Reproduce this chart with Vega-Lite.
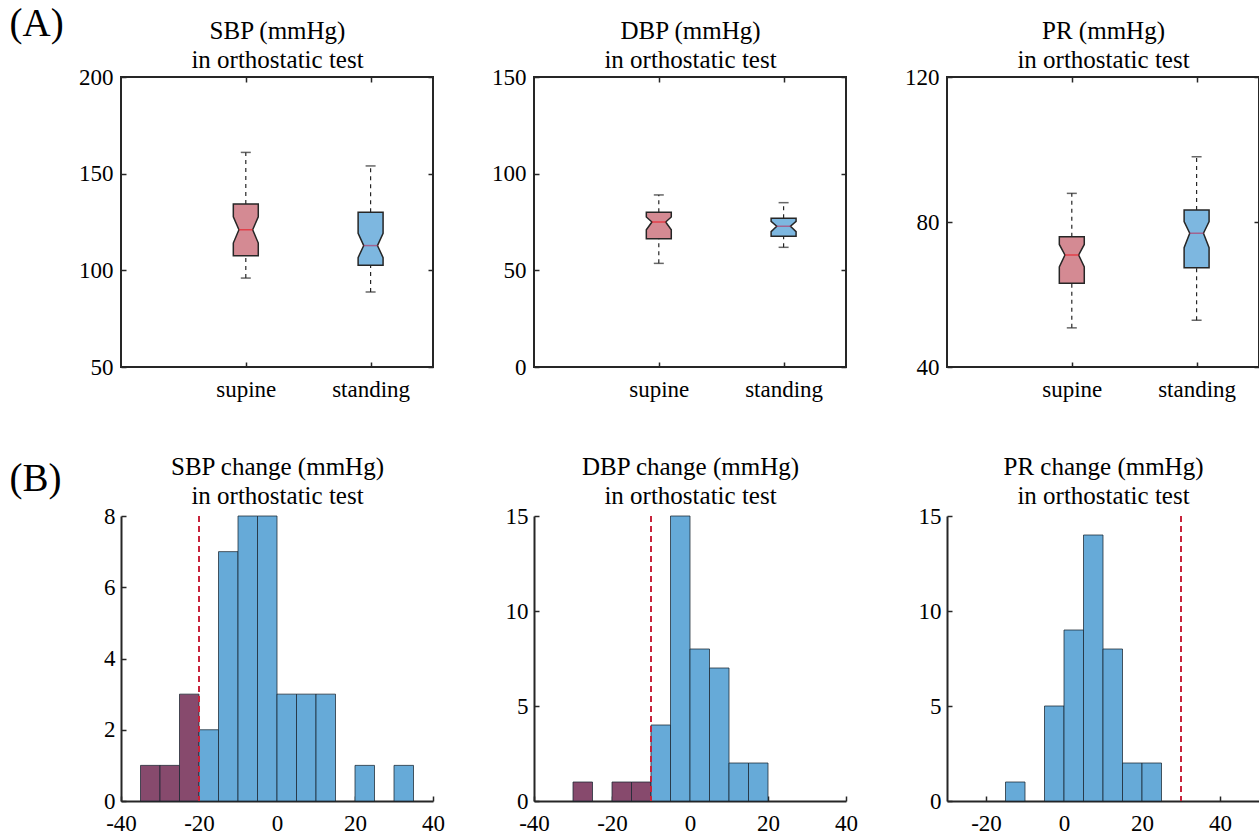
{
  "$schema": "https://vega.github.io/schema/vega-lite/v6.json",
  "padding": {"left": 8, "top": 3, "right": 0, "bottom": 0},
  "datasets": {
    "boxes": [
      {"panel": "SBP", "grp": "supine", "pos": 1, "lo": 96, "q1": 107.6, "nlo": 114.1, "med": 121, "nhi": 127.7, "q3": 134.3, "hi": 161},
      {"panel": "SBP", "grp": "standing", "pos": 2, "lo": 88.8, "q1": 102.6, "nlo": 106.6, "med": 112.8, "nhi": 119.1, "q3": 130, "hi": 154},
      {"panel": "DBP", "grp": "supine", "pos": 1, "lo": 53.6, "q1": 66.4, "nlo": 71, "med": 75, "nhi": 77.6, "q3": 80, "hi": 89},
      {"panel": "DBP", "grp": "standing", "pos": 2, "lo": 61.9, "q1": 67.6, "nlo": 70, "med": 72.8, "nhi": 75.3, "q3": 76.9, "hi": 85},
      {"panel": "PR", "grp": "supine", "pos": 1, "lo": 50.8, "q1": 63.1, "nlo": 67.6, "med": 70.9, "nhi": 73.8, "q3": 75.9, "hi": 87.9},
      {"panel": "PR", "grp": "standing", "pos": 2, "lo": 52.9, "q1": 67.4, "nlo": 72.9, "med": 76.9, "nhi": 80.1, "q3": 83.3, "hi": 98}
    ],
    "hist": [
      {"panel": "SBP", "b0": -35, "b1": -30, "n": 1, "side": "low"},
      {"panel": "SBP", "b0": -30, "b1": -25, "n": 1, "side": "low"},
      {"panel": "SBP", "b0": -25, "b1": -20, "n": 3, "side": "low"},
      {"panel": "SBP", "b0": -20, "b1": -15, "n": 2, "side": "high"},
      {"panel": "SBP", "b0": -15, "b1": -10, "n": 7, "side": "high"},
      {"panel": "SBP", "b0": -10, "b1": -5, "n": 8, "side": "high"},
      {"panel": "SBP", "b0": -5, "b1": 0, "n": 8, "side": "high"},
      {"panel": "SBP", "b0": 0, "b1": 5, "n": 3, "side": "high"},
      {"panel": "SBP", "b0": 5, "b1": 10, "n": 3, "side": "high"},
      {"panel": "SBP", "b0": 10, "b1": 15, "n": 3, "side": "high"},
      {"panel": "SBP", "b0": 20, "b1": 25, "n": 1, "side": "high"},
      {"panel": "SBP", "b0": 30, "b1": 35, "n": 1, "side": "high"},
      {"panel": "DBP", "b0": -30, "b1": -25, "n": 1, "side": "low"},
      {"panel": "DBP", "b0": -20, "b1": -15, "n": 1, "side": "low"},
      {"panel": "DBP", "b0": -15, "b1": -10, "n": 1, "side": "low"},
      {"panel": "DBP", "b0": -10, "b1": -5, "n": 4, "side": "high"},
      {"panel": "DBP", "b0": -5, "b1": 0, "n": 15, "side": "high"},
      {"panel": "DBP", "b0": 0, "b1": 5, "n": 8, "side": "high"},
      {"panel": "DBP", "b0": 5, "b1": 10, "n": 7, "side": "high"},
      {"panel": "DBP", "b0": 10, "b1": 15, "n": 2, "side": "high"},
      {"panel": "DBP", "b0": 15, "b1": 20, "n": 2, "side": "high"},
      {"panel": "PR", "b0": -15, "b1": -10, "n": 1, "side": "high"},
      {"panel": "PR", "b0": -5, "b1": 0, "n": 5, "side": "high"},
      {"panel": "PR", "b0": 0, "b1": 5, "n": 9, "side": "high"},
      {"panel": "PR", "b0": 5, "b1": 10, "n": 14, "side": "high"},
      {"panel": "PR", "b0": 10, "b1": 15, "n": 8, "side": "high"},
      {"panel": "PR", "b0": 15, "b1": 20, "n": 2, "side": "high"},
      {"panel": "PR", "b0": 20, "b1": 25, "n": 2, "side": "high"}
    ],
    "thr": [
      {"panel": "SBP", "thr": -20},
      {"panel": "DBP", "thr": -10},
      {"panel": "PR", "thr": 30}
    ]
  },
  "columns": 3,
  "spacing": {"row": 149, "column": 101},
  "bounds": "flush",
  "concat": [
    {
      "width": 312, "height": 290,
      "view": {"stroke": "#262626", "strokeWidth": 2},
      "data": {"name": "boxes"},
      "transform": [{"filter": "datum.panel == 'SBP'"}],
      "resolve": {"axis": {"x": "independent", "y": "independent"}},
      "layer": [
        {
          "transform": [
            {"fold": ["q1", "nlo", "med", "nhi", "q3"], "as": ["stat", "val"]},
            {"calculate": "datum.stat == 'med' ? 0.055 : 0.1", "as": "hw"},
            {"calculate": "datum.pos - datum.hw", "as": "xl"},
            {"calculate": "datum.pos + datum.hw", "as": "xr"}
          ],
          "mark": {"type": "area", "orient": "horizontal", "stroke": "#262626", "strokeWidth": 1.5},
          "encoding": {
            "y": {"field": "val", "type": "quantitative", "scale": {"domain": [50, 200], "nice": false, "zero": false},
              "axis": {"orient": "left", "values": [50, 100, 150, 200], "domain": false, "title": "(A)", "titleAngle": 0, "titleAlign": "left", "titleBaseline": "alphabetic", "titleX": -112, "titleY": -42, "titleFontSize": 39, "titleLineHeight": 39}},
            "x": {"field": "xl", "type": "quantitative", "scale": {"domain": [0, 2.5], "nice": false},
              "axis": {"orient": "bottom", "values": [1, 2], "labelExpr": "datum.value == 1 ? 'supine' : 'standing'", "domain": false, "title": null}},
            "x2": {"field": "xr"},
            "detail": {"field": "grp", "type": "nominal"},
            "fill": {"condition": {"test": "datum.grp == 'supine'", "value": "#D48A93"}, "value": "#7DB7E0"}
          }
        },
        {
          "mark": {"type": "rule", "color": "#262626", "strokeWidth": 1.2, "strokeDash": [4, 4]},
          "encoding": {
            "x": {"field": "pos", "type": "quantitative", "axis": null},
            "y": {"field": "lo", "type": "quantitative", "axis": null},
            "y2": {"field": "q1"}
          }
        },
        {
          "mark": {"type": "rule", "color": "#262626", "strokeWidth": 1.2, "strokeDash": [4, 4]},
          "encoding": {
            "x": {"field": "pos", "type": "quantitative", "axis": null},
            "y": {"field": "q3", "type": "quantitative", "axis": null},
            "y2": {"field": "hi"}
          }
        },
        {
          "transform": [{"fold": ["lo", "hi"], "as": ["stat", "val"]}],
          "mark": {"type": "tick", "orient": "horizontal", "size": 10, "thickness": 1.5, "color": "#262626"},
          "encoding": {
            "x": {"field": "pos", "type": "quantitative", "axis": {"orient": "top", "values": [1, 2], "labels": false, "domain": false, "title": ["SBP (mmHg)", "in orthostatic test"], "titleX": 156, "titleY": -59}},
            "y": {"field": "val", "type": "quantitative", "axis": {"orient": "right", "values": [50, 100, 150, 200], "labels": false, "domain": false, "title": null}}
          }
        },
        {
          "mark": {"type": "tick", "orient": "horizontal", "size": 14, "thickness": 1.5},
          "encoding": {
            "x": {"field": "pos", "type": "quantitative", "axis": null},
            "y": {"field": "med", "type": "quantitative", "axis": null},
            "color": {"condition": {"test": "datum.grp == 'supine'", "value": "#E8202A"}, "value": "#B0406F"}
          }
        }
      ]
    },
    {
      "width": 312, "height": 290,
      "view": {"stroke": "#262626", "strokeWidth": 2},
      "data": {"name": "boxes"},
      "transform": [{"filter": "datum.panel == 'DBP'"}],
      "resolve": {"axis": {"x": "independent", "y": "independent"}},
      "layer": [
        {
          "transform": [
            {"fold": ["q1", "nlo", "med", "nhi", "q3"], "as": ["stat", "val"]},
            {"calculate": "datum.stat == 'med' ? 0.055 : 0.1", "as": "hw"},
            {"calculate": "datum.pos - datum.hw", "as": "xl"},
            {"calculate": "datum.pos + datum.hw", "as": "xr"}
          ],
          "mark": {"type": "area", "orient": "horizontal", "stroke": "#262626", "strokeWidth": 1.5},
          "encoding": {
            "y": {"field": "val", "type": "quantitative", "scale": {"domain": [0, 150], "nice": false},
              "axis": {"orient": "left", "values": [0, 50, 100, 150], "domain": false, "title": null}},
            "x": {"field": "xl", "type": "quantitative", "scale": {"domain": [0, 2.5], "nice": false},
              "axis": {"orient": "bottom", "values": [1, 2], "labelExpr": "datum.value == 1 ? 'supine' : 'standing'", "domain": false, "title": null}},
            "x2": {"field": "xr"},
            "detail": {"field": "grp", "type": "nominal"},
            "fill": {"condition": {"test": "datum.grp == 'supine'", "value": "#D48A93"}, "value": "#7DB7E0"}
          }
        },
        {
          "mark": {"type": "rule", "color": "#262626", "strokeWidth": 1.2, "strokeDash": [4, 4]},
          "encoding": {
            "x": {"field": "pos", "type": "quantitative", "axis": null},
            "y": {"field": "lo", "type": "quantitative", "axis": null},
            "y2": {"field": "q1"}
          }
        },
        {
          "mark": {"type": "rule", "color": "#262626", "strokeWidth": 1.2, "strokeDash": [4, 4]},
          "encoding": {
            "x": {"field": "pos", "type": "quantitative", "axis": null},
            "y": {"field": "q3", "type": "quantitative", "axis": null},
            "y2": {"field": "hi"}
          }
        },
        {
          "transform": [{"fold": ["lo", "hi"], "as": ["stat", "val"]}],
          "mark": {"type": "tick", "orient": "horizontal", "size": 10, "thickness": 1.5, "color": "#262626"},
          "encoding": {
            "x": {"field": "pos", "type": "quantitative", "axis": {"orient": "top", "values": [1, 2], "labels": false, "domain": false, "title": ["DBP (mmHg)", "in orthostatic test"], "titleX": 156, "titleY": -59}},
            "y": {"field": "val", "type": "quantitative", "axis": {"orient": "right", "values": [0, 50, 100, 150], "labels": false, "domain": false, "title": null}}
          }
        },
        {
          "mark": {"type": "tick", "orient": "horizontal", "size": 14, "thickness": 1.5},
          "encoding": {
            "x": {"field": "pos", "type": "quantitative", "axis": null},
            "y": {"field": "med", "type": "quantitative", "axis": null},
            "color": {"condition": {"test": "datum.grp == 'supine'", "value": "#E8202A"}, "value": "#B0406F"}
          }
        }
      ]
    },
    {
      "width": 312, "height": 290,
      "view": {"stroke": "#262626", "strokeWidth": 2},
      "data": {"name": "boxes"},
      "transform": [{"filter": "datum.panel == 'PR'"}],
      "resolve": {"axis": {"x": "independent", "y": "independent"}},
      "layer": [
        {
          "transform": [
            {"fold": ["q1", "nlo", "med", "nhi", "q3"], "as": ["stat", "val"]},
            {"calculate": "datum.stat == 'med' ? 0.055 : 0.1", "as": "hw"},
            {"calculate": "datum.pos - datum.hw", "as": "xl"},
            {"calculate": "datum.pos + datum.hw", "as": "xr"}
          ],
          "mark": {"type": "area", "orient": "horizontal", "stroke": "#262626", "strokeWidth": 1.5},
          "encoding": {
            "y": {"field": "val", "type": "quantitative", "scale": {"domain": [40, 120], "nice": false, "zero": false},
              "axis": {"orient": "left", "values": [40, 80, 120], "domain": false, "title": null}},
            "x": {"field": "xl", "type": "quantitative", "scale": {"domain": [0, 2.5], "nice": false},
              "axis": {"orient": "bottom", "values": [1, 2], "labelExpr": "datum.value == 1 ? 'supine' : 'standing'", "domain": false, "title": null}},
            "x2": {"field": "xr"},
            "detail": {"field": "grp", "type": "nominal"},
            "fill": {"condition": {"test": "datum.grp == 'supine'", "value": "#D48A93"}, "value": "#7DB7E0"}
          }
        },
        {
          "mark": {"type": "rule", "color": "#262626", "strokeWidth": 1.2, "strokeDash": [4, 4]},
          "encoding": {
            "x": {"field": "pos", "type": "quantitative", "axis": null},
            "y": {"field": "lo", "type": "quantitative", "axis": null},
            "y2": {"field": "q1"}
          }
        },
        {
          "mark": {"type": "rule", "color": "#262626", "strokeWidth": 1.2, "strokeDash": [4, 4]},
          "encoding": {
            "x": {"field": "pos", "type": "quantitative", "axis": null},
            "y": {"field": "q3", "type": "quantitative", "axis": null},
            "y2": {"field": "hi"}
          }
        },
        {
          "transform": [{"fold": ["lo", "hi"], "as": ["stat", "val"]}],
          "mark": {"type": "tick", "orient": "horizontal", "size": 10, "thickness": 1.5, "color": "#262626"},
          "encoding": {
            "x": {"field": "pos", "type": "quantitative", "axis": {"orient": "top", "values": [1, 2], "labels": false, "domain": false, "title": ["PR (mmHg)", "in orthostatic test"], "titleX": 156, "titleY": -59}},
            "y": {"field": "val", "type": "quantitative", "axis": {"orient": "right", "values": [40, 80, 120], "labels": false, "domain": false, "title": null}}
          }
        },
        {
          "mark": {"type": "tick", "orient": "horizontal", "size": 14, "thickness": 1.5},
          "encoding": {
            "x": {"field": "pos", "type": "quantitative", "axis": null},
            "y": {"field": "med", "type": "quantitative", "axis": null},
            "color": {"condition": {"test": "datum.grp == 'supine'", "value": "#E8202A"}, "value": "#B0406F"}
          }
        }
      ]
    },
    {
      "width": 312, "height": 285,
      "resolve": {"axis": {"x": "independent"}},
      "layer": [
        {
          "data": {"name": "hist"},
          "transform": [{"filter": "datum.panel == 'SBP'"}],
          "mark": {"type": "bar", "stroke": "#1a2530", "strokeWidth": 1, "strokeOpacity": 0.75},
          "encoding": {
            "x": {"field": "b0", "type": "quantitative", "scale": {"domain": [-40, 40], "nice": false},
              "axis": {"values": [-40, -20, 0, 20, 40], "labelExpr": "'' + datum.value", "title": null}},
            "x2": {"field": "b1"},
            "y": {"field": "n", "type": "quantitative", "scale": {"domain": [0, 8], "nice": false},
              "axis": {"values": [0, 2, 4, 6, 8], "labelPadding": 11, "title": "(B)", "titleAngle": 0, "titleAlign": "left", "titleBaseline": "alphabetic", "titleX": -112, "titleY": -26, "titleFontSize": 39, "titleLineHeight": 39}},
            "y2": {"datum": 0},
            "fill": {"condition": {"test": "datum.side == 'low'", "value": "#874A6D"}, "value": "#66AAD8"}
          }
        },
        {
          "data": {"name": "thr"},
          "transform": [{"filter": "datum.panel == 'SBP'"}],
          "mark": {"type": "rule", "color": "#C8243C", "strokeWidth": 2, "strokeDash": [6, 4]},
          "encoding": {"x": {"field": "thr", "type": "quantitative", "axis": {"orient": "top", "ticks": false, "labels": false, "domain": false, "title": ["SBP change (mmHg)", "in orthostatic test"], "titleX": 156, "titleY": -62}}}
        }
      ]
    },
    {
      "width": 312, "height": 285,
      "resolve": {"axis": {"x": "independent"}},
      "layer": [
        {
          "data": {"name": "hist"},
          "transform": [{"filter": "datum.panel == 'DBP'"}],
          "mark": {"type": "bar", "stroke": "#1a2530", "strokeWidth": 1, "strokeOpacity": 0.75},
          "encoding": {
            "x": {"field": "b0", "type": "quantitative", "scale": {"domain": [-40, 40], "nice": false},
              "axis": {"values": [-40, -20, 0, 20, 40], "labelExpr": "'' + datum.value", "title": null}},
            "x2": {"field": "b1"},
            "y": {"field": "n", "type": "quantitative", "scale": {"domain": [0, 15], "nice": false},
              "axis": {"values": [0, 5, 10, 15], "labelPadding": 11, "title": null}},
            "y2": {"datum": 0},
            "fill": {"condition": {"test": "datum.side == 'low'", "value": "#874A6D"}, "value": "#66AAD8"}
          }
        },
        {
          "data": {"name": "thr"},
          "transform": [{"filter": "datum.panel == 'DBP'"}],
          "mark": {"type": "rule", "color": "#C8243C", "strokeWidth": 2, "strokeDash": [6, 4]},
          "encoding": {"x": {"field": "thr", "type": "quantitative", "axis": {"orient": "top", "ticks": false, "labels": false, "domain": false, "title": ["DBP change (mmHg)", "in orthostatic test"], "titleX": 156, "titleY": -62}}}
        }
      ]
    },
    {
      "width": 312, "height": 285,
      "resolve": {"axis": {"x": "independent"}},
      "layer": [
        {
          "data": {"name": "hist"},
          "transform": [{"filter": "datum.panel == 'PR'"}],
          "mark": {"type": "bar", "stroke": "#1a2530", "strokeWidth": 1, "strokeOpacity": 0.75},
          "encoding": {
            "x": {"field": "b0", "type": "quantitative", "scale": {"domain": [-30, 50], "nice": false},
              "axis": {"values": [-20, 0, 20, 40], "labelExpr": "'' + datum.value", "title": null}},
            "x2": {"field": "b1"},
            "y": {"field": "n", "type": "quantitative", "scale": {"domain": [0, 15], "nice": false},
              "axis": {"values": [0, 5, 10, 15], "labelPadding": 11, "title": null}},
            "y2": {"datum": 0},
            "fill": {"condition": {"test": "datum.side == 'low'", "value": "#874A6D"}, "value": "#66AAD8"}
          }
        },
        {
          "data": {"name": "thr"},
          "transform": [{"filter": "datum.panel == 'PR'"}],
          "mark": {"type": "rule", "color": "#C8243C", "strokeWidth": 2, "strokeDash": [6, 4]},
          "encoding": {"x": {"field": "thr", "type": "quantitative", "axis": {"orient": "top", "ticks": false, "labels": false, "domain": false, "title": ["PR change (mmHg)", "in orthostatic test"], "titleX": 156, "titleY": -62}}}
        }
      ]
    }
  ],
  "config": {
    "font": "Liberation Serif",
    "view": {"stroke": null},
    "axis": {
      "labelFont": "Liberation Serif",
      "labelFontSize": 23,
      "labelColor": "black",
      "labelFlush": false,
      "labelOverlap": false,
      "labelPadding": 13,
      "domainColor": "#262626",
      "domainWidth": 2,
      "tickColor": "#262626",
      "tickSize": -5,
      "tickWidth": 1.5,
      "grid": false,
      "titleFont": "Liberation Serif",
      "titleFontSize": 25,
      "titleFontWeight": "normal",
      "titleColor": "black",
      "titleLineHeight": 29,
      "titleBaseline": "top",
      "titleAngle": 0,
      "titleAlign": "center"
    },
    "axisX": {"labelPadding": 16}
  }
}
